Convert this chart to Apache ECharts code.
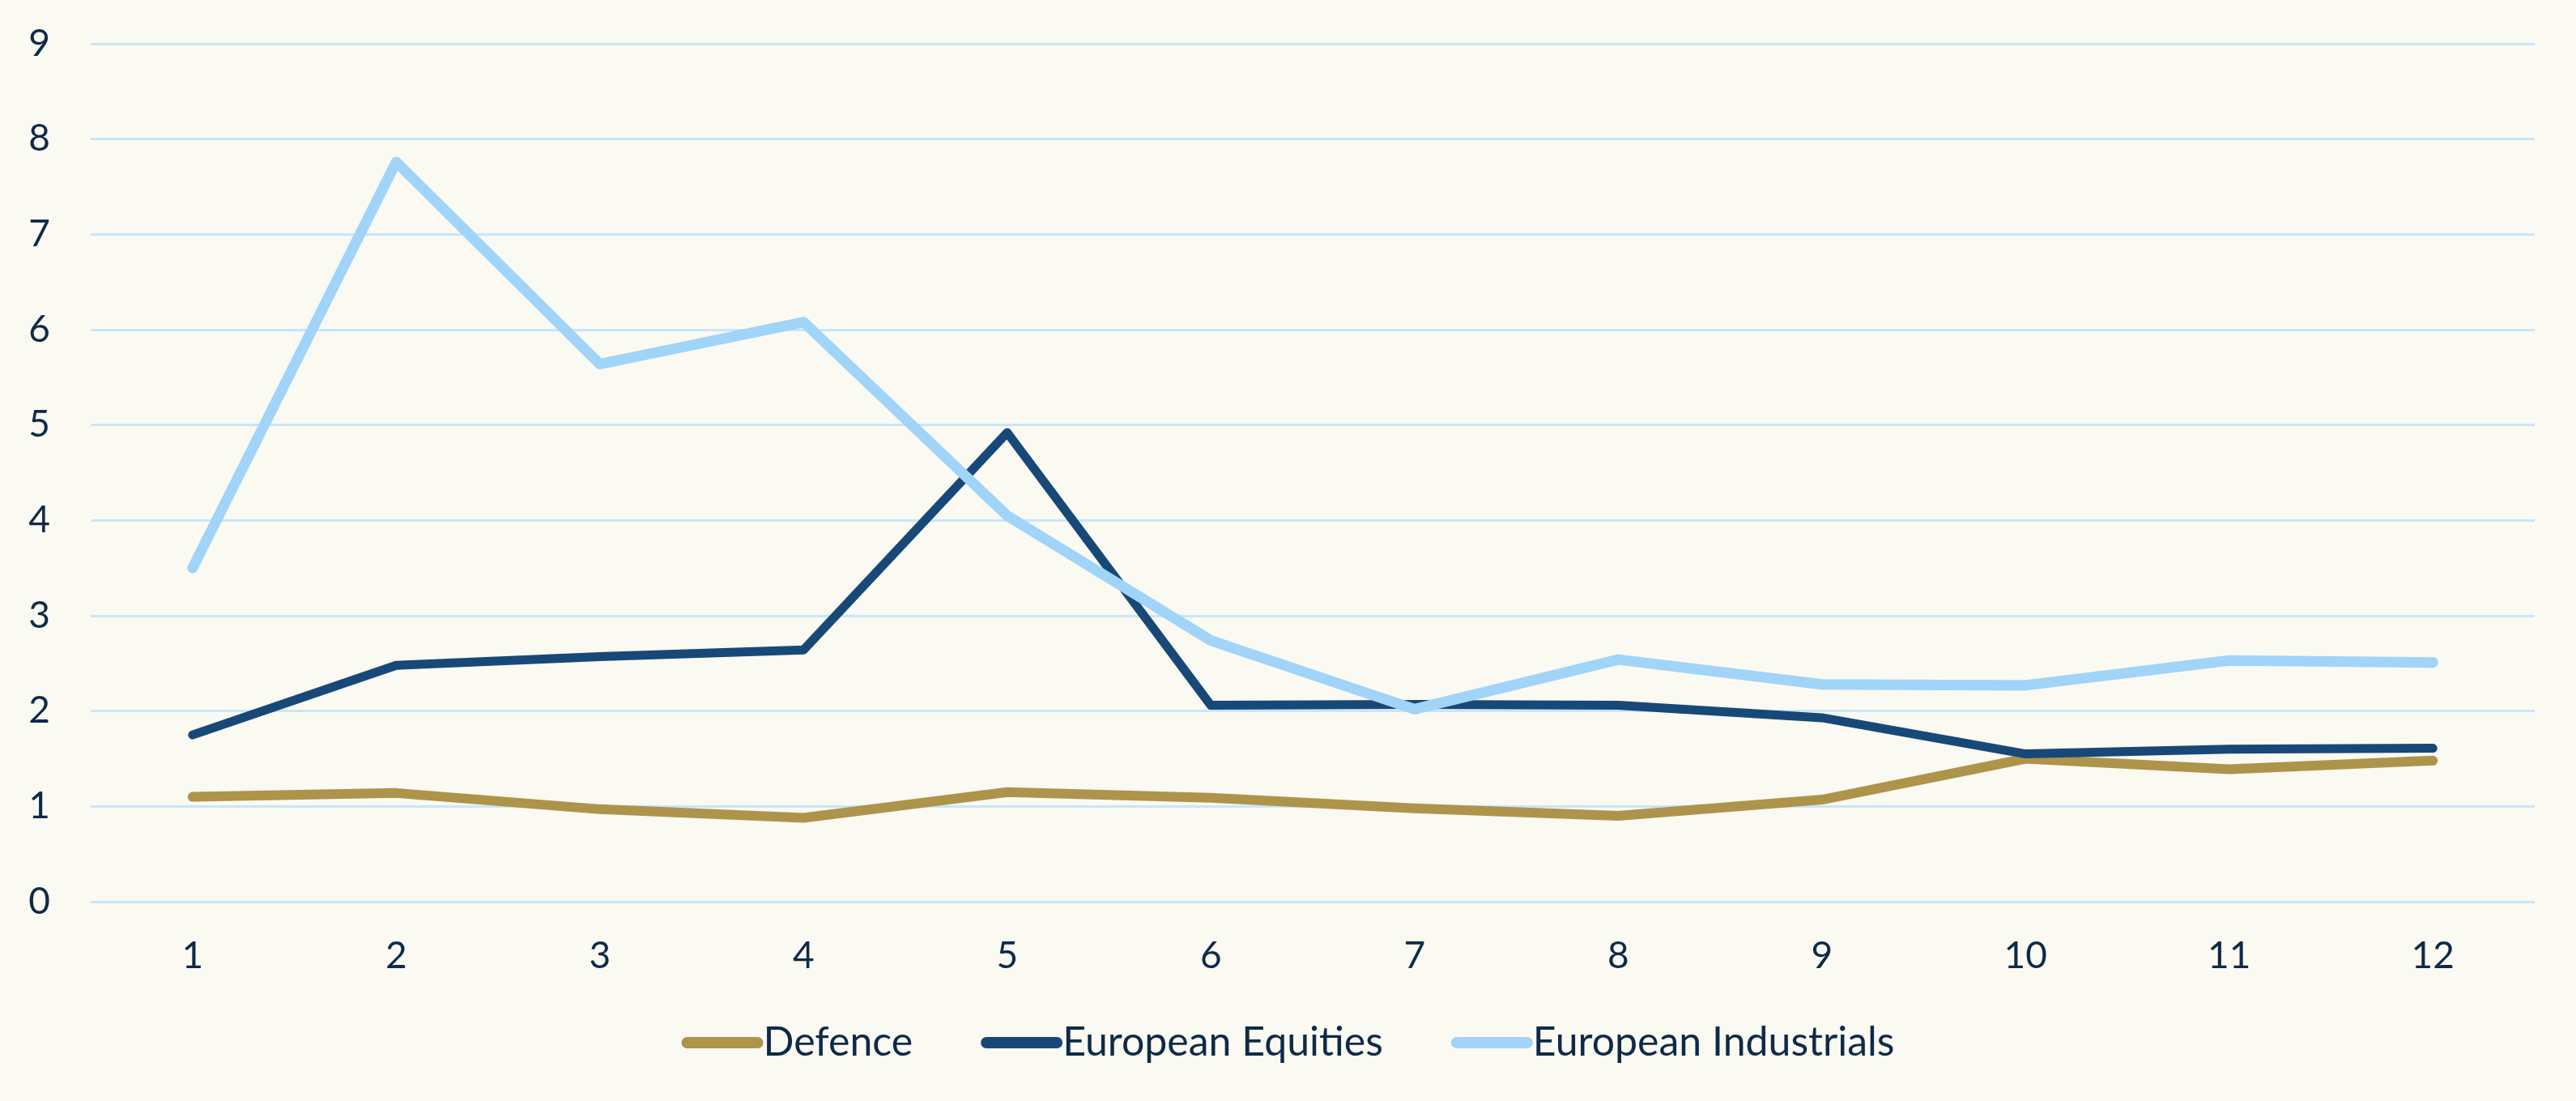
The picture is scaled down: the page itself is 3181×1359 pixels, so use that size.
<!DOCTYPE html>
<html>
<head>
<meta charset="utf-8">
<script src="https://cdn.jsdelivr.net/npm/echarts@6/dist/echarts.min.js"></script>
<style>
html,body{margin:0;padding:0;background:#FAF9F2;}
#chart{width:3181px;height:1359px;}
</style>
</head>
<body>
<div id="chart"></div>
<script>
const categories = ['1','2','3','4','5','6','7','8','9','10','11','12'];
const defence = [1.10, 1.14, 0.97, 0.88, 1.15, 1.09, 0.98, 0.90, 1.07, 1.50, 1.39, 1.48];
const europeanEquities = [1.75, 2.48, 2.57, 2.64, 4.92, 2.06, 2.07, 2.06, 1.93, 1.55, 1.60, 1.61];
const europeanIndustrials = [3.50, 7.76, 5.64, 6.08, 4.05, 2.74, 2.02, 2.54, 2.28, 2.27, 2.53, 2.51];
const seriesNames = ['Defence', 'European Equities', 'European Industrials'];

const textColor = '#0E2A47';
const font = 'Lato';
const chart = echarts.init(document.getElementById('chart'));
const pill = 'path://M7,0 L94,0 A7,7 0 0 1 94,14 L7,14 A7,7 0 0 1 7,0 Z';
chart.setOption({
  backgroundColor: '#FAF9F2',
  animation: false,
  textStyle: { fontFamily: font, color: textColor },
  grid: { left: 112, right: 51, top: 54, bottom: 246, containLabel: false },
  legend: {
    data: seriesNames,
    top: 1257,
    left: 'center',
    icon: pill,
    itemWidth: 101,
    itemHeight: 14,
    itemGap: 84,
    textStyle: { fontFamily: font, fontSize: 50, color: textColor, padding: [0, 0, 0, -5] }
  },
  xAxis: {
    type: 'category',
    data: categories,
    boundaryGap: true,
    axisLine: { show: false },
    axisTick: { show: false },
    axisLabel: { fontFamily: font, fontSize: 46, color: textColor, margin: 44 }
  },
  yAxis: {
    type: 'value',
    min: 0, max: 9, interval: 1,
    axisLine: { show: false },
    axisTick: { show: false },
    axisLabel: { fontFamily: font, fontSize: 46, color: textColor, margin: 50 },
    splitLine: { lineStyle: { color: '#C8E6FA', width: 3 } }
  },
  series: [
    { name: seriesNames[0], type: 'line', data: defence, symbol: 'none', color: '#AD944A',
      lineStyle: { color: '#AD944A', width: 12, cap: 'round', join: 'round' } },
    { name: seriesNames[1], type: 'line', data: europeanEquities, symbol: 'none', color: '#184878',
      lineStyle: { color: '#184878', width: 11, cap: 'round', join: 'round' } },
    { name: seriesNames[2], type: 'line', data: europeanIndustrials, symbol: 'none', color: '#A0D4F8',
      lineStyle: { color: '#A0D4F8', width: 13, cap: 'round', join: 'round' } }
  ]
});
</script>
</body>
</html>
